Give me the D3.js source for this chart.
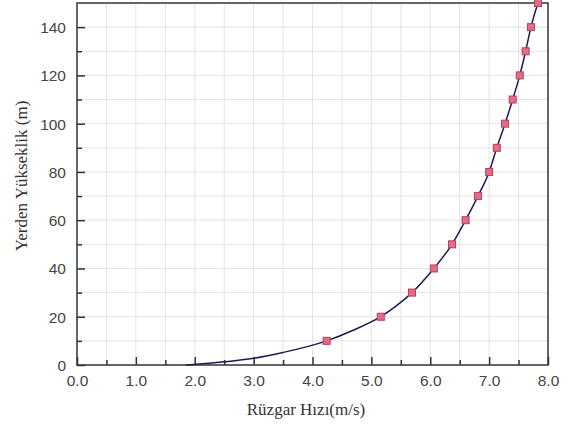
<!DOCTYPE html>
<html>
<head>
<meta charset="utf-8">
<script src="https://cdn.jsdelivr.net/npm/d3@7"></script>
<style>
  body { margin: 0; background: #fff; }
  svg text { fill: #333; }
</style>
</head>
<body>
<svg id="chart" width="569" height="425"></svg>
<script>
// Measured points (markers)
const heights = [10, 20, 30, 40, 50, 60, 70, 80, 90, 100, 110, 120, 130, 140, 150];
const speeds = [4.24, 5.16, 5.69, 6.06, 6.37, 6.6, 6.81, 7.0, 7.13, 7.27, 7.4, 7.52, 7.62, 7.71, 7.83];

// Fitted curve
const curveSpeeds = [1.85, 2.25, 2.5, 3.0, 3.5, 4.24, 4.7, 5.16, 5.45, 5.69, 6.06, 6.37, 6.6, 6.81, 7.0, 7.13, 7.27, 7.4, 7.52, 7.62, 7.71, 7.83];
const curveHeights = [0, 0.7, 1.3, 2.8, 5.2, 10, 14.5, 20, 25, 30, 40, 50, 60, 70, 80, 90, 100, 110, 120, 130, 140, 150];

const xTicks = [0, 1, 2, 3, 4, 5, 6, 7, 8];
const yTicks = [0, 20, 40, 60, 80, 100, 120, 140];

const svg = d3.select("#chart");
const plotLeft = 77, plotRight = 548, plotTop = 3, plotBottom = 365;

const x = d3.scaleLinear().domain([0, 8]).range([plotLeft, plotRight]);
const y = d3.scaleLinear().domain([0, 150]).range([plotBottom, plotTop]);

// grid lines every 0.5 / 10
const grid = svg.append("g").attr("stroke", "#e3e3e3").attr("stroke-width", 1);
grid.selectAll(".gx").data(d3.range(0.5, 8, 0.5)).enter().append("line")
    .attr("x1", d => x(d)).attr("x2", d => x(d))
    .attr("y1", plotTop).attr("y2", plotBottom);
grid.selectAll(".gy").data(d3.range(10, 150, 10)).enter().append("line")
    .attr("y1", d => y(d)).attr("y2", d => y(d))
    .attr("x1", plotLeft).attr("x2", plotRight);

// axes with inward ticks
const xAxis = svg.append("g").attr("transform", `translate(0,${plotBottom})`)
    .call(d3.axisBottom(x).tickValues(xTicks).tickSizeInner(-8).tickSizeOuter(0)
        .tickFormat(d3.format(".1f")));
const xMinor = svg.append("g").attr("transform", `translate(0,${plotBottom})`)
    .call(d3.axisBottom(x).tickValues(d3.range(0.5, 8, 1)).tickSizeInner(-5).tickSizeOuter(0).tickFormat(""));
const yAxis = svg.append("g").attr("transform", `translate(${plotLeft},0)`)
    .call(d3.axisLeft(y).tickValues(yTicks).tickSizeInner(-8).tickSizeOuter(0));
const yMinor = svg.append("g").attr("transform", `translate(${plotLeft},0)`)
    .call(d3.axisLeft(y).tickValues(d3.range(10, 150, 20)).tickSizeInner(-5).tickSizeOuter(0).tickFormat(""));

[xAxis, xMinor, yAxis, yMinor].forEach(g => {
    g.select(".domain").remove();
    g.selectAll(".tick line").attr("stroke", "#333").attr("stroke-width", 1.5);
});
xAxis.selectAll(".tick text").attr("dy", "0").attr("y", 21)
    .style("font-family", "Liberation Sans, Arial").style("font-size", "15.5px").style("fill", "#444");
yAxis.selectAll(".tick text").attr("x", -11).attr("dy", "0.35em")
    .style("font-family", "Liberation Sans, Arial").style("font-size", "15.5px").style("fill", "#444");

// frame
svg.append("rect").attr("x", plotLeft).attr("y", plotTop)
    .attr("width", plotRight - plotLeft).attr("height", plotBottom - plotTop)
    .attr("fill", "none").attr("stroke", "#333").attr("stroke-width", 1.5);

// curve
const curveData = curveSpeeds.map((s, i) => ({ s, h: curveHeights[i] }));
svg.append("path").datum(curveData)
    .attr("fill", "none").attr("stroke", "#1c1c55").attr("stroke-width", 1.5)
    .attr("d", d3.line().x(d => x(d.s)).y(d => y(d.h)).curve(d3.curveMonotoneX));

// markers
const pts = speeds.map((s, i) => ({ s, h: heights[i] }));
svg.selectAll(".mk").data(pts).enter().append("rect")
    .attr("x", d => x(d.s) - 3.5).attr("y", d => y(d.h) - 3.5)
    .attr("width", 7).attr("height", 7)
    .attr("fill", "#de6f8a").attr("stroke", "#c23a5c").attr("stroke-width", 1);

// axis titles
svg.append("text").attr("x", 306).attr("y", 415).attr("text-anchor", "middle")
    .style("font-family", "Liberation Serif, Times New Roman").style("font-size", "17px")
    .text("Rüzgar Hızı(m/s)");
svg.append("text").attr("transform", "translate(27,176) rotate(-90)").attr("text-anchor", "middle")
    .style("font-family", "Liberation Serif, Times New Roman").style("font-size", "17px")
    .text("Yerden Yükseklik (m)");
</script>
</body>
</html>
